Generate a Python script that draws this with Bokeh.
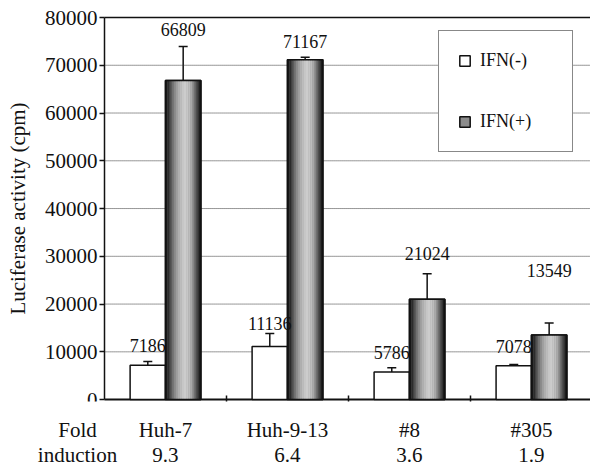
import numpy as np
from bokeh.plotting import figure
from bokeh.models import (Range1d, FixedTicker, Whisker, TeeHead, ColumnDataSource,
                          Legend, LegendItem)
from bokeh.core.properties import value
from bokeh.embed import file_html
from bokeh.resources import INLINE

# ---- data ----
categories = ["Huh-7", "Huh-9-13", "#8", "#305"]
fold_induction = ["9.3", "6.4", "3.6", "1.9"]
row_header = "Fold\ninduction"
ifn_minus = [7186, 11136, 5786, 7078]
ifn_plus = [66809, 71167, 21024, 13549]
err_minus = [800, 2700, 900, 250]
err_plus = [7100, 500, 5300, 2500]
label_y_minus = [11300, 15900, 9800, 11100]
label_y_plus = [77500, 75000, 30600, 27000]
y_ticks = [0, 10000, 20000, 30000, 40000, 50000, 60000, 70000, 80000]
y_max = 80000

FONT = "Liberation Serif"
INK = "#111111"

n = len(categories)
x_start, x_end = -0.8525, 3.984
header_x = -0.221

p = figure(width=590, height=469, output_backend="svg", toolbar_location=None,
           x_range=Range1d(x_start, x_end), y_range=Range1d(-400, 83560),
           min_border_left=0, min_border_right=0, min_border_top=0, min_border_bottom=68)
p.outline_line_color = None
p.background_fill_color = "white"
p.xgrid.visible = False
p.ygrid.visible = False

# y axis fixed at the start of the category span
p.yaxis.fixed_location = 0
p.yaxis.bounds = (0, y_max)
p.yaxis.ticker = FixedTicker(ticks=y_ticks)
p.yaxis.axis_label = "Luciferase activity (cpm)"
p.yaxis.axis_label_text_font = FONT
p.yaxis.axis_label_text_font_size = "21px"
p.yaxis.axis_label_text_font_style = "normal"
p.yaxis.axis_label_text_color = INK
p.yaxis.axis_label_standoff = 12
p.yaxis.major_label_text_font = FONT
p.yaxis.major_label_text_font_size = "21px"
p.yaxis.major_label_text_color = INK
p.yaxis.major_label_standoff = 2
p.yaxis.major_tick_in = 0
p.yaxis.major_tick_out = 5
p.yaxis.minor_tick_line_color = None
p.yaxis.axis_line_width = 1.5
p.yaxis.major_tick_line_width = 1.5
p.yaxis.axis_line_color = INK
p.yaxis.major_tick_line_color = INK

# x axis: two-line labels, boundary ticks inside
idx = np.arange(n)
xc = idx + 0.5
tick_pos = [header_x] + [float(v) for v in xc]
p.xaxis.ticker = FixedTicker(ticks=tick_pos, minor_ticks=[float(v) for v in idx[1:]])
overrides = {header_x: row_header}
for i in range(n):
    overrides[float(xc[i])] = categories[i] + "\n" + fold_induction[i]
p.xaxis.major_label_overrides = overrides
p.xaxis.major_label_text_font = FONT
p.xaxis.major_label_text_font_size = "21px"
p.xaxis.major_label_text_line_height = 1.05
p.xaxis.major_label_text_color = INK
p.xaxis.major_label_standoff = 10
p.xaxis.major_label_text_align = "center"
p.xaxis.major_tick_line_color = None
p.xaxis.axis_line_color = None
p.xaxis.minor_tick_in = 6
p.xaxis.minor_tick_out = 0
p.xaxis.minor_tick_line_width = 1.5
p.xaxis.minor_tick_line_color = INK

# gridlines (dotted) and baseline/top line
p.segment(x0=[0] * (len(y_ticks) - 2), x1=[x_end] * (len(y_ticks) - 2),
          y0=y_ticks[1:-1], y1=y_ticks[1:-1],
          line_color="#333333", line_dash="1 1", line_width=1)
p.segment(x0=[0, 0], x1=[x_end, x_end], y0=[0, y_max], y1=[0, y_max],
          line_color=INK, line_width=[2, 1.5])

bw = 0.29
xm = xc - bw / 2
xp = xc + bw / 2

# IFN(-) white bars
r_minus = p.vbar(x=xm, top=ifn_minus, bottom=0, width=bw, fill_color="white",
                 line_color=INK, line_width=1.5)

# IFN(+) grey bars (base, gradient strips, outline)
r_plus = p.vbar(x=xp, top=ifn_plus, bottom=0, width=bw, fill_color="#8c8c8c",
                line_color=INK, line_width=1.5)
profile = [0.10, 0.17, 0.26, 0.36, 0.46, 0.55, 0.62, 0.69, 0.74, 0.78,
           0.80, 0.80, 0.78, 0.74, 0.67, 0.57, 0.44, 0.31, 0.20, 0.11]
N = len(profile)
cols = ["#" + ("%02x" % int(v * 255)) * 3 for v in profile]
sw = bw / N
sx = (xp[:, None] + (np.arange(N)[None, :] + 0.5 - N / 2) * sw).ravel()
stop = np.repeat(ifn_plus, N)
scol = cols * n
p.vbar(x=sx, top=stop, bottom=0, width=sw * 1.08, fill_color=scol, line_color=None)
p.vbar(x=xp, top=ifn_plus, bottom=0, width=bw, fill_color=None,
       line_color=INK, line_width=1.5)

# error bars
for xs, tops, errs in ((xm, ifn_minus, err_minus), (xp, ifn_plus, err_plus)):
    src = ColumnDataSource(dict(x=xs, lower=tops, upper=np.array(tops) + np.array(errs)))
    p.add_layout(Whisker(source=src, base="x", lower="lower", upper="upper",
                         dimension="height", lower_head=None,
                         upper_head=TeeHead(size=9, line_width=1.5, line_color=INK),
                         line_width=1.5, line_color=INK))

# value labels
p.text(x=list(xm) + list(xp), y=label_y_minus + label_y_plus,
       text=[str(v) for v in ifn_minus + ifn_plus],
       text_font=value(FONT), text_font_size="18px", text_align="center",
       text_baseline="middle", text_color=INK)

legend = Legend(items=[LegendItem(label="IFN(-)", renderers=[r_minus]),
                       LegendItem(label="IFN(+)", renderers=[r_plus])],
                location=(438, 249), orientation="vertical",
                border_line_color=INK, border_line_width=1.5,
                background_fill_color="white", background_fill_alpha=1,
                label_text_font=FONT, label_text_font_size="18px",
                label_text_color=INK,
                glyph_width=13, glyph_height=13, label_standoff=9,
                padding=19, spacing=40, label_height=20, label_width=73, margin=0)
p.add_layout(legend, "center")

open("out.html", "w").write(file_html(p, INLINE))
